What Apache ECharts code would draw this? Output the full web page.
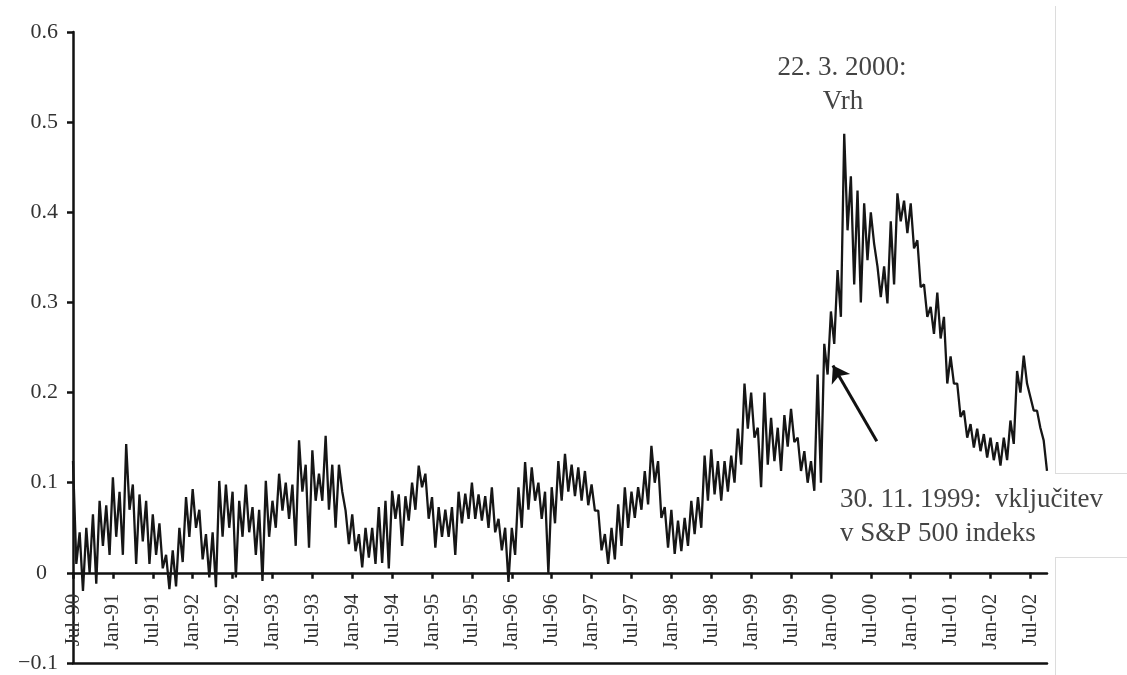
<!DOCTYPE html>
<html>
<head>
<meta charset="utf-8">
<script src="https://cdn.jsdelivr.net/npm/echarts@6/dist/echarts.min.js"></script>
<style>
  html, body { margin: 0; padding: 0; background: #fff; }
  #chart { width: 1127px; height: 675px; }
</style>
</head>
<body>
<div id="chart"></div>
<script>
// half-year tick labels, one every 6 months from Jul-90
const tickLabels = ['Jul-90', 'Jan-91', 'Jul-91', 'Jan-92', 'Jul-92', 'Jan-93', 'Jul-93', 'Jan-94', 'Jul-94',
    'Jan-95', 'Jul-95', 'Jan-96', 'Jul-96', 'Jan-97', 'Jul-97', 'Jan-98', 'Jul-98', 'Jan-99', 'Jul-99',
    'Jan-00', 'Jul-00', 'Jan-01', 'Jul-01', 'Jan-02', 'Jul-02'];

const yLabels = ['\u22120.1', '0', '0.1', '0.2', '0.3', '0.4', '0.5', '0.6'];

// monthly high / low of the daily series, month 0 = Jul 1990
const hiVals = [
    0.124, 0.045, 0.050, 0.065, 0.080, 0.075, 0.106, 0.090, 0.143, 0.098,
    0.087, 0.080, 0.065, 0.055, 0.020, 0.025, 0.050, 0.084, 0.093, 0.070,
    0.043, 0.045, 0.102, 0.098, 0.090, 0.080, 0.098, 0.073, 0.070, 0.102,
    0.080, 0.110, 0.100, 0.098, 0.147, 0.120, 0.136, 0.110, 0.152, 0.120,
    0.120, 0.069, 0.065, 0.043, 0.050, 0.050, 0.073, 0.080, 0.091, 0.087,
    0.085, 0.100, 0.119, 0.110, 0.084, 0.073, 0.070, 0.073, 0.090, 0.088,
    0.100, 0.087, 0.085, 0.095, 0.060, 0.050, 0.050, 0.095, 0.123, 0.117,
    0.100, 0.090, 0.095, 0.124, 0.132, 0.120, 0.117, 0.113, 0.098, 0.069,
    0.043, 0.050, 0.076, 0.095, 0.090, 0.095, 0.113, 0.141, 0.124, 0.073,
    0.070, 0.058, 0.061, 0.080, 0.084, 0.130, 0.137, 0.124, 0.124, 0.130,
    0.160, 0.210, 0.200, 0.161, 0.200, 0.172, 0.161, 0.175, 0.182, 0.150,
    0.135, 0.124, 0.220, 0.254, 0.290, 0.336, 0.487, 0.440, 0.424, 0.410,
    0.400, 0.340, 0.340, 0.390, 0.421, 0.413, 0.410, 0.369, 0.320, 0.295,
    0.311, 0.284, 0.240, 0.210, 0.180, 0.165, 0.160, 0.154, 0.150, 0.145,
    0.150, 0.169, 0.224, 0.241, 0.195, 0.180, 0.147
];
const loVals = [
    0.010, -0.020, 0.000, -0.012, 0.030, 0.020, 0.040, 0.020, 0.070, 0.010,
    0.035, 0.010, 0.020, 0.005, -0.018, -0.015, 0.012, 0.040, 0.050, 0.015,
    -0.005, -0.016, 0.040, 0.050, -0.005, 0.040, 0.045, 0.020, -0.009, 0.040,
    0.050, 0.069, 0.060, 0.030, 0.090, 0.028, 0.080, 0.080, 0.070, 0.050,
    0.090, 0.032, 0.024, 0.006, 0.017, 0.010, 0.011, 0.005, 0.060, 0.030,
    0.058, 0.070, 0.095, 0.060, 0.028, 0.040, 0.040, 0.020, 0.055, 0.060,
    0.060, 0.058, 0.050, 0.045, 0.025, -0.010, 0.020, 0.050, 0.070, 0.080,
    0.060, 0.000, 0.055, 0.080, 0.090, 0.085, 0.080, 0.075, 0.069, 0.025,
    0.010, 0.015, 0.030, 0.050, 0.061, 0.070, 0.076, 0.100, 0.061, 0.028,
    0.021, 0.024, 0.030, 0.043, 0.050, 0.080, 0.087, 0.080, 0.090, 0.100,
    0.120, 0.160, 0.150, 0.095, 0.120, 0.124, 0.113, 0.140, 0.145, 0.113,
    0.100, 0.091, 0.100, 0.220, 0.254, 0.284, 0.380, 0.320, 0.300, 0.347,
    0.365, 0.306, 0.299, 0.320, 0.390, 0.377, 0.360, 0.317, 0.284, 0.265,
    0.260, 0.210, 0.210, 0.173, 0.150, 0.139, 0.135, 0.128, 0.125, 0.119,
    0.125, 0.143, 0.200, 0.210, 0.180, 0.161, 0.113
];

// arrow for the S&P 500 inclusion note, in data coordinates (month, value)
const arrowFrom = [120.9, 0.146];
const arrowTo = [114.3, 0.23];

const seriesData = [];
hiVals.forEach((v, i) => {
    seriesData.push([i, v]);
    seriesData.push([i + 0.5, loVals[i]]);
});

const tickPos = tickLabels.map((_, i) => i * 6);
const serif = '"Liberation Serif", "DejaVu Serif", serif';

// grid geometry; the dated axis sits on the zero line, one step (0.1 of 0.7) above the bottom
const gridTop = 32, gridBottom = 12;
const gridH = 675 - gridTop - gridBottom;
const zeroOffset = -gridH / 7;

const chart = echarts.init(document.getElementById('chart'));

chart.setOption({
    animation: false,
    backgroundColor: '#fff',
    grid: { left: 73, right: 80, top: gridTop, bottom: gridBottom, containLabel: false, outerBoundsMode: 'none' },
    xAxis: [
        {
            type: 'value',
            min: 0,
            max: 146.5,
            interval: 6,
            position: 'bottom',
            offset: zeroOffset,
            splitLine: { show: false },
            axisLine: { onZero: false, lineStyle: { color: '#111', width: 2.5 } },
            axisTick: { length: 6, customValues: tickPos, lineStyle: { color: '#111', width: 2.5 } },
            axisLabel: {
                customValues: tickPos,
                rotate: 90,
                margin: 21,
                fontFamily: serif,
                fontSize: 21,
                color: '#333',
                formatter: v => tickLabels[Math.round(v / 6)] || ''
            }
        },
        {
            type: 'value',
            min: 0,
            max: 146.5,
            position: 'bottom',
            splitLine: { show: false },
            axisLine: { onZero: false, lineStyle: { color: '#111', width: 2.5 } },
            axisTick: { show: false },
            axisLabel: { show: false }
        }
    ],
    yAxis: {
        type: 'value',
        min: -0.1,
        max: 0.6,
        interval: 0.1,
        splitLine: { show: false },
        axisLine: { show: true, onZero: false, lineStyle: { color: '#111', width: 2.5 } },
        axisTick: { show: true, length: 6, lineStyle: { color: '#111', width: 2.5 } },
        axisLabel: {
            margin: 15,
            fontFamily: serif,
            fontSize: 22,
            color: '#333',
            formatter: v => {
                const idx = Math.round(v * 10) + 1;
                return idx === 1 ? '{z|0}' : yLabels[idx];
            },
            rich: {
                z: { fontFamily: serif, fontSize: 22, color: '#333', padding: [0, 11, 0, 0] }
            }
        }
    },
    series: [
        {
            type: 'line',
            xAxisIndex: 0,
            data: seriesData,
            symbol: 'none',
            sampling: 'none',
            lineStyle: { color: '#161616', width: 2.3 },
            markLine: {
                silent: true,
                symbol: ['none', 'arrow'],
                symbolSize: 16,
                label: { show: false },
                lineStyle: { color: '#111', width: 3, type: 'solid' },
                data: [[{ coord: arrowFrom }, { coord: arrowTo }]]
            }
        }
    ],
    graphic: [
        {
            type: 'text', x: 842, y: 68,
            style: { text: '22. 3. 2000:', font: '27px ' + serif, fill: '#444', align: 'center', verticalAlign: 'middle' }
        },
        {
            type: 'text', x: 843, y: 102,
            style: { text: 'Vrh', font: '27px ' + serif, fill: '#444', align: 'center', verticalAlign: 'middle' }
        },
        {
            type: 'text', x: 840, y: 500,
            style: { text: '30. 11. 1999:  vklju\u010ditev', font: '27px ' + serif, fill: '#444', align: 'left', verticalAlign: 'middle' }
        },
        {
            type: 'text', x: 840, y: 534,
            style: { text: 'v S&P 500 indeks', font: '27px ' + serif, fill: '#444', align: 'left', verticalAlign: 'middle' }
        },
        // faint scan frame on the right
        { type: 'line', shape: { x1: 1055.5, y1: 6, x2: 1055.5, y2: 473 }, style: { stroke: '#dcdcdc', lineWidth: 1 } },
        { type: 'line', shape: { x1: 1055, y1: 473.5, x2: 1127, y2: 473.5 }, style: { stroke: '#dcdcdc', lineWidth: 1 } },
        { type: 'line', shape: { x1: 1055, y1: 557.5, x2: 1127, y2: 557.5 }, style: { stroke: '#dcdcdc', lineWidth: 1 } },
        { type: 'line', shape: { x1: 1055.5, y1: 557, x2: 1055.5, y2: 675 }, style: { stroke: '#dcdcdc', lineWidth: 1 } }
    ]
});
</script>
</body>
</html>
